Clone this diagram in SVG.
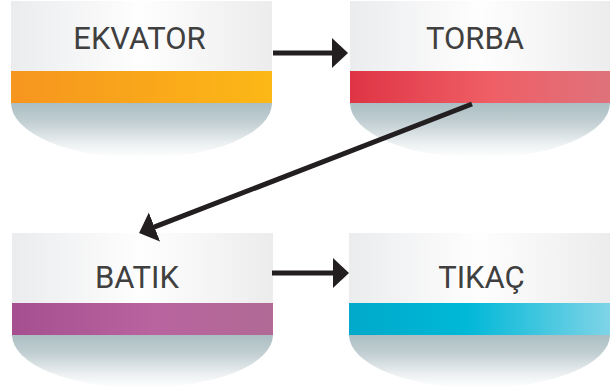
<svg xmlns="http://www.w3.org/2000/svg" width="616" height="389" viewBox="0 0 616 389">
<style>
  .lbl { font-family: Roboto, "Liberation Sans", sans-serif; font-size: 31px; fill: #404040; text-anchor: middle; }
  .hdr { fill: url(#gHdr); }
  .shd { fill: url(#gShd); }
  .conn { stroke: #231f20; stroke-width: 5; fill: none; marker-end: url(#arr); }
</style>
<defs>
  <linearGradient id="gHdr" x1="0" y1="0" x2="1" y2="0">
    <stop offset="0" stop-color="#ebecee"/>
    <stop offset="0.5" stop-color="#fefefe"/>
    <stop offset="1" stop-color="#ececed"/>
  </linearGradient>
  <linearGradient id="gShd" x1="0" y1="0" x2="0" y2="1">
    <stop offset="0" stop-color="#abbec3"/>
    <stop offset="0.35" stop-color="#c2cfd3"/>
    <stop offset="0.75" stop-color="#edf1f2"/>
    <stop offset="1" stop-color="#ffffff"/>
  </linearGradient>
  <linearGradient id="gOrange" x1="0" y1="0" x2="1" y2="0">
    <stop offset="0" stop-color="#f6951f"/>
    <stop offset="1" stop-color="#fcb816"/>
  </linearGradient>
  <linearGradient id="gRed" x1="0" y1="0" x2="1" y2="0">
    <stop offset="0" stop-color="#df3445"/>
    <stop offset="0.55" stop-color="#ef5f66"/>
    <stop offset="1" stop-color="#df727b"/>
  </linearGradient>
  <linearGradient id="gPurple" x1="0" y1="0" x2="1" y2="0">
    <stop offset="0" stop-color="#a54f90"/>
    <stop offset="0.55" stop-color="#b9649f"/>
    <stop offset="1" stop-color="#b06a95"/>
  </linearGradient>
  <linearGradient id="gCyan" x1="0" y1="0" x2="1" y2="0">
    <stop offset="0" stop-color="#00a9c9"/>
    <stop offset="0.45" stop-color="#00b8d7"/>
    <stop offset="1" stop-color="#7fd4e7"/>
  </linearGradient>
  <marker id="arr" markerUnits="userSpaceOnUse" markerWidth="17" markerHeight="32" viewBox="0 0 17 32" refX="0.5" refY="16" orient="auto">
    <path d="M0,0.5 L16.5,16 L0,31.5 z" fill="#231f20"/>
  </marker>
</defs>

<g id="node-ekvator">
  <path class="shd" d="M11,103 H272 A130.5,55 0 0 1 11,103 z"/>
  <rect class="hdr" x="11" y="1" width="261" height="70"/>
  <rect x="11" y="71" width="261" height="32" fill="url(#gOrange)"/>
  <text class="lbl" x="139.5" y="49">EKVATOR</text>
</g>

<g id="node-torba">
  <path class="shd" d="M350,103 H610 A130,55 0 0 1 350,103 z"/>
  <rect class="hdr" x="350" y="1" width="260" height="70"/>
  <rect x="350" y="71" width="260" height="32" fill="url(#gRed)"/>
  <text class="lbl" x="475" y="49">TORBA</text>
</g>

<g id="node-batik">
  <path class="shd" d="M12,335 H273 A130.5,53 0 0 1 12,335 z"/>
  <rect class="hdr" x="12" y="233" width="261" height="70"/>
  <rect x="12" y="303" width="261" height="32" fill="url(#gPurple)"/>
  <text class="lbl" x="137" y="288">BATIK</text>
</g>

<g id="node-tikac">
  <path class="shd" d="M349,335 H610 A130.5,53 0 0 1 349,335 z"/>
  <rect class="hdr" x="349" y="233" width="261" height="70"/>
  <rect x="349" y="303" width="261" height="32" fill="url(#gCyan)"/>
  <text class="lbl" x="481.5" y="288">TIKAÇ</text>
</g>

<g id="connectors">
  <line class="conn" x1="273" y1="53" x2="332" y2="53"/>
  <line class="conn" x1="472" y1="104" x2="154" y2="227.2"/>
  <line class="conn" x1="272" y1="273" x2="333" y2="273"/>
</g>
</svg>
